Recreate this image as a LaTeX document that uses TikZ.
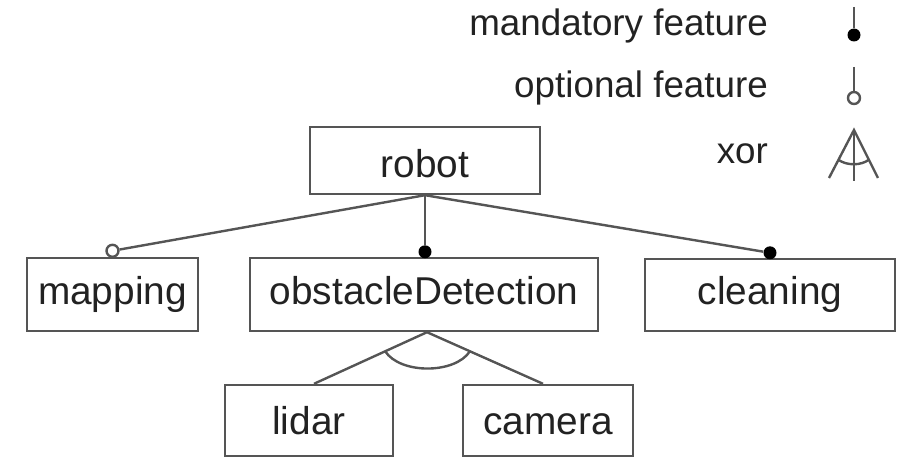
\documentclass[tikz,border=0pt]{standalone}
\usepackage{fontspec}
\setmainfont{Liberation Sans}
\usetikzlibrary{calc}
\definecolor{ln}{HTML}{555555}
\definecolor{tx}{HTML}{222222}
\begin{document}
\begin{tikzpicture}[x=0.5pt,y=-0.5pt,
  txtfont/.style={text=tx, font=\fontsize{19.4}{22}\selectfont},
  feat/.style={draw=ln, line width=1.2pt, rectangle, inner sep=0pt, txtfont},
  rowa/.style={text height=17.5pt, text depth=0.5pt},
  rowb/.style={text height=14pt, text depth=4pt},
  rowc/.style={text height=16pt, text depth=1.5pt},
  conn/.style={draw=ln, line width=1.2pt},
  mand/.style={circle, fill=black, inner sep=0pt, minimum size=6.5pt},
  opt/.style={circle, draw=ln, fill=white, line width=1.2pt, inner sep=0pt, minimum size=6pt},
  legtext/.style={anchor=base east, text=tx, font=\fontsize{18.4}{22}\selectfont}]
\useasboundingbox (0,0) rectangle (902,460);
% feature boxes
\node[feat, rowa, minimum width=115pt, minimum height=33.5pt] (robot) at (425,160.5) {robot};
\node[feat, rowb, minimum width=85.5pt, minimum height=36.5pt] (mapping) at (112.5,294.5) {mapping};
\node[feat, rowb, minimum width=174pt, minimum height=36.5pt] (od) at (424,294.5) {obstacleDetection};
\node[feat, rowb, minimum width=125pt, minimum height=36pt] (cleaning) at (770,295) {cleaning};
\node[feat, rowc, minimum width=84pt, minimum height=35.5pt] (lidar) at (309,420.5) {lidar};
\node[feat, rowc, minimum width=85pt, minimum height=35.5pt] (camera) at (548,420.5) {camera};
% markers
\node[opt] (om) at ($(mapping.north)+(0,-6)$) {};
\node[mand] (mo) at ($(od.north)+(1,-5)$) {};
\node[mand] (mc) at ($(cleaning.north)+(0,-5)$) {};
% connectors
\draw[conn] (robot.south) -- (om);
\draw[conn] (robot.south) -- (mo);
\draw[conn] (robot.south) -- (mc);
% xor group
\coordinate (ap) at ($(od.south)+(3,0)$);
\coordinate (lt) at ($(lidar.north)+(5,0)$);
\coordinate (ct) at ($(camera.north)+(-5,0)$);
\draw[conn] (ap) -- (lt);
\draw[conn] (ap) -- (ct);
\coordinate (xa) at ($(ap)!0.37!(lt)$);
\coordinate (xb) at ($(ap)!0.37!(ct)$);
\draw[conn] (xa) .. controls +(15,23) and +(-15,23) .. (xb);
% legend
\node[legtext] (l1) at (775,36) {mandatory feature};
\node[legtext] (l2) at (775,98) {optional feature};
\node[legtext] (l3) at (775,164) {xor};
\coordinate (s1t) at (854,7);
\node[mand] (s1) at (854,35) {};
\draw[conn] (s1t) -- (s1);
\coordinate (s2t) at (854,67);
\node[opt] (s2) at (854,98) {};
\draw[conn] (s2t) -- (s2);
\coordinate (xp) at (854,130);
\coordinate (xl) at (829,178);
\coordinate (xr) at (878,178);
\coordinate (xv) at (854,181);
\draw[conn] (xl) -- (xp) -- (xr);
\draw[conn] (xp) -- (xv);
\draw[conn] ($(xp)!0.62!(xl)$) .. controls +(8,6) and +(-8,6) .. ($(xp)!0.62!(xr)$);
\end{tikzpicture}
\end{document}
